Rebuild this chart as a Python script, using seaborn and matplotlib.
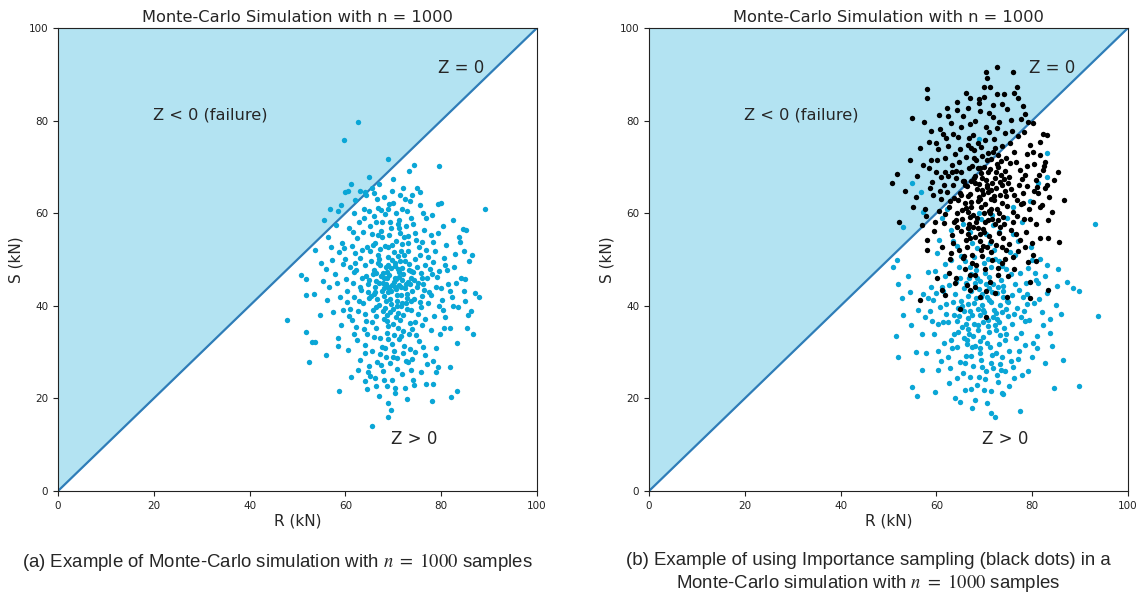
import pandas as pd
import seaborn as sns
import matplotlib.pyplot as plt

# punkty (R, S) w kN
mc_points = [
    (62.6, 79.7), (59.7, 75.8), (68.9, 71.7), (79.5, 70.2), (89.1, 60.9), (74.3, 70.4), (73.3, 69.1), (64.9, 67.8),
    (61.2, 66.3), (55.5, 58.5), (53.7, 52.0), (47.8, 36.9), (65.6, 14.0), (68.9, 16.0), (68.9, 19.0), (58.7, 21.6),
    (78.1, 19.4), (82.0, 20.3), (83.3, 21.6), (52.4, 27.9), (86.6, 34.0), (87.9, 42.0), (87.1, 42.7),
    (60.0, 64.5), (60.5, 64.8), (63.0, 64.7), (64.0, 64.5), (66.0, 64.3), (56.8, 61.0), (58.5, 60.5), (59.0, 61.8),
    (75.6, 64.5), (79.3, 62.0), (80.0, 62.2), (82.5, 58.6), (84.5, 56.5), (85.1, 56.3), (84.0, 53.8), (86.5, 51.0),
    (50.7, 46.6), (51.8, 45.8), (51.8, 42.3), (51.8, 34.3), (53.0, 32.2), (53.7, 32.2), (55.9, 29.4), (58.5, 31.3),
    (85.0, 45.8), (84.8, 43.2), (83.3, 32.0), (81.8, 26.8), (79.3, 26.8), (76.8, 23.1), (78.3, 23.1), (74.3, 22.9),
    (66.4, 22.7), (68.7, 22.7), (70.4, 22.2), (64.1, 23.8), (65.1, 24.8),
    (70.2, 45.1), (68.4, 48.3), (72.9, 41.7), (66.1, 44.0), (74.5, 50.2), (69.3, 38.6), (71.8, 53.4), (65.2, 51.9), (76.3, 44.8), (63.7, 40.5),
    (70.9, 35.2), (67.5, 56.1), (73.6, 47.6), (68.9, 42.9), (72.1, 46.8), (61.8, 47.2), (78.4, 49.5), (69.7, 31.8), (64.4, 36.7), (75.2, 38.3),
    (71.3, 58.6), (66.8, 61.2), (73.1, 55.0), (69.0, 52.7), (77.9, 55.3), (62.5, 54.6), (60.3, 43.1), (80.1, 41.2), (74.8, 33.6), (67.2, 29.5),
    (72.6, 28.1), (70.5, 43.6), (68.1, 45.9), (71.7, 39.9), (65.9, 47.8), (69.8, 49.9), (73.9, 43.2), (67.0, 40.1), (75.7, 47.0), (64.8, 44.7),
    (70.0, 62.3), (71.5, 36.9), (68.6, 34.1), (66.3, 37.9), (76.9, 52.1), (63.1, 50.3), (79.2, 46.3), (72.3, 51.0), (69.5, 56.9), (65.6, 55.4),
    (74.1, 57.7), (61.0, 39.4), (77.3, 40.7), (70.7, 26.4), (67.8, 25.9), (73.4, 30.7), (64.2, 31.6), (76.1, 35.8), (80.8, 37.5), (59.6, 49.0),
    (62.9, 58.2), (68.3, 59.8), (72.8, 60.4), (75.5, 61.7), (66.6, 63.1), (70.3, 48.7), (71.1, 44.4), (69.1, 46.6), (67.7, 43.3), (72.5, 43.9),
    (68.8, 50.6), (70.8, 41.0), (66.9, 49.3), (73.3, 49.0), (65.4, 42.2), (74.3, 45.5), (69.6, 40.4), (71.9, 48.1), (67.3, 52.3), (70.6, 54.1),
    (63.5, 46.1), (77.5, 43.0), (61.6, 44.9), (78.8, 51.8), (64.0, 38.2), (75.9, 42.1), (68.0, 37.2), (72.0, 34.5), (66.0, 33.2), (74.6, 36.4),
    (70.1, 30.2), (62.2, 35.4), (79.7, 33.9), (69.4, 27.7), (73.7, 26.2), (65.0, 27.0), (76.6, 29.3), (81.5, 44.6), (58.9, 41.8), (57.8, 46.9),
    (59.3, 53.5), (60.8, 56.9), (81.1, 53.1), (82.7, 48.4), (83.6, 39.7), (57.4, 38.6), (56.6, 44.1), (84.2, 46.1), (71.4, 64.0), (74.0, 63.9),
    (67.1, 66.2), (69.9, 67.3), (76.8, 58.9), (78.0, 59.6), (80.4, 57.2), (63.9, 61.0), (61.9, 60.1), (58.1, 57.4), (66.4, 58.0), (72.7, 57.3),
    (70.4, 46.0), (68.5, 44.6), (71.6, 42.3), (69.2, 43.9), (67.4, 46.4), (73.0, 45.2), (66.7, 41.4), (72.4, 49.6), (68.7, 47.4), (70.0, 39.2),
    (65.3, 49.6), (74.9, 48.4), (63.3, 43.5), (76.0, 46.1), (69.0, 35.7), (71.2, 32.8), (67.6, 31.0), (73.8, 39.0), (64.6, 33.9), (75.3, 52.8),
    (62.0, 51.4), (77.7, 48.0), (60.1, 45.7), (79.9, 43.9), (66.2, 53.6), (72.2, 54.9), (69.3, 58.0), (65.8, 46.8), (74.4, 41.5), (68.2, 53.0),
    (71.0, 50.8), (67.9, 38.9), (73.5, 36.2), (70.9, 47.9), (66.5, 35.3), (64.1, 48.9), (75.8, 39.8), (62.8, 41.0), (78.5, 37.9), (61.3, 37.0),
    (80.3, 39.0), (59.0, 35.9), (82.2, 41.8), (58.4, 33.1), (81.9, 35.1), (60.6, 30.5), (79.0, 30.9), (63.0, 28.3), (77.1, 27.4), (66.1, 24.5),
    (74.2, 24.0), (70.3, 21.1), (72.9, 19.8), (67.0, 20.5), (69.6, 17.6), (71.9, 25.3), (68.4, 28.9), (64.7, 25.6), (75.4, 32.3), (62.4, 32.7),
    (77.8, 34.8), (65.7, 39.0), (73.2, 33.9), (60.4, 40.9), (79.5, 47.6), (57.2, 49.8), (82.9, 51.1), (58.7, 51.6), (81.3, 47.7), (84.9, 41.0),
    (56.1, 41.2), (55.3, 45.3), (85.8, 49.6), (54.7, 38.0), (86.2, 38.8), (54.9, 49.2), (83.8, 54.9), (56.3, 54.9), (85.3, 35.3), (53.5, 42.5),
    (69.8, 44.5), (70.6, 45.8), (71.3, 47.2), (68.6, 46.1), (67.2, 48.9), (72.8, 42.6), (69.4, 41.5), (71.7, 44.1), (66.4, 45.4), (73.6, 46.0),
    (68.1, 42.1), (70.2, 51.6), (72.0, 38.0), (67.7, 54.8), (74.7, 54.2), (65.1, 57.3), (71.8, 61.0), (69.1, 61.9), (76.4, 56.3), (63.6, 56.0),
    (78.2, 53.7), (61.4, 53.0), (60.0, 50.2), (80.6, 50.4), (75.0, 44.1), (64.9, 41.7), (73.1, 51.9), (66.9, 51.0), (70.5, 37.5), (68.8, 32.9),
    (72.3, 31.4), (65.5, 30.2), (74.5, 30.0), (63.8, 35.0), (76.7, 37.2), (70.8, 28.7), (67.4, 27.2), (73.0, 27.8), (69.7, 23.9), (62.6, 26.2),
    (78.9, 25.7), (61.1, 24.7), (71.5, 55.8), (66.0, 59.3), (73.8, 59.0), (68.0, 63.5), (72.1, 65.5), (64.3, 63.9), (70.7, 42.4), (69.5, 48.2),
    (67.8, 44.9), (71.9, 40.6), (73.4, 44.6), (66.2, 43.0), (75.6, 50.9), (64.5, 52.7), (77.0, 45.9), (62.1, 49.3), (68.3, 39.6), (70.1, 33.6),
    (69.0, 44.0), (71.2, 46.3), (67.9, 47.1), (72.7, 44.8), (68.4, 41.0), (70.4, 49.2), (66.0, 42.6), (73.7, 41.1), (69.7, 53.1), (71.6, 51.8),
    (65.0, 45.6), (74.2, 47.3), (67.0, 50.2), (70.9, 38.5), (68.7, 36.8), (72.9, 39.4), (66.3, 39.8), (75.1, 45.0), (64.3, 46.4), (73.0, 53.6),
    (69.2, 55.3), (67.6, 58.2), (71.2, 56.7), (74.6, 55.8), (65.8, 53.1), (76.7, 48.9), (63.0, 44.0), (77.8, 42.4), (61.9, 41.8), (78.9, 44.1),
    (70.0, 36.1), (68.2, 30.9), (72.1, 29.9), (66.7, 27.8), (74.0, 28.6), (64.1, 29.7), (76.3, 31.0), (62.7, 38.8), (79.6, 39.9), (60.9, 48.3),
    (80.9, 48.8), (59.8, 52.4), (79.3, 55.7), (61.5, 55.9), (63.8, 59.0), (68.9, 61.0), (73.5, 62.6), (70.6, 60.1), (66.9, 55.2), (75.9, 53.8),
    (69.5, 43.2), (70.3, 44.0), (68.0, 43.9), (71.9, 45.5), (67.1, 45.0), (73.2, 47.8), (69.0, 48.8), (71.4, 49.7), (66.5, 47.0), (72.6, 40.5),
    (70.7, 39.9), (68.6, 38.1), (65.6, 36.4), (73.9, 34.9), (71.7, 33.4), (67.3, 33.0), (69.9, 29.0), (75.5, 40.8), (64.7, 43.0), (76.5, 43.5),
    (62.3, 47.8), (77.2, 50.5), (63.4, 52.0), (78.1, 46.9), (60.7, 37.8), (81.8, 43.1), (58.2, 44.9), (82.4, 39.9), (59.5, 39.0), (80.5, 35.2),
    (61.7, 34.0), (78.4, 28.0), (64.6, 22.0), (72.5, 22.3), (75.7, 25.7), (68.1, 24.0), (70.9, 57.7), (67.4, 60.6), (72.4, 63.0), (64.9, 60.4),
    (76.2, 60.0), (74.9, 65.4), (69.8, 64.8), (65.5, 65.5), (62.0, 62.8), (57.0, 52.6), (55.9, 48.0), (84.7, 51.8), (83.2, 44.9), (85.5, 38.1),
]

is_blue_points = [
    (51.0, 48.4), (51.7, 49.9), (51.9, 44.7), (52.8, 41.6), (53.0, 38.0), (51.6, 33.5), (52.0, 29.0), (55.0, 22.5),
    (55.9, 20.5), (56.9, 26.1), (59.7, 21.3), (60.3, 26.1), (67.5, 18.0), (71.5, 16.9), (72.2, 16.0), (77.5, 17.3),
    (74.0, 20.9), (84.6, 22.2), (89.8, 22.7), (93.7, 37.8), (86.5, 28.3), (84.2, 31.4), (83.7, 34.2), (89.7, 43.2),
    (88.5, 43.9), (87.2, 45.2), (85.3, 47.9), (82.7, 27.6), (77.9, 25.1), (80.2, 31.9), (54.5, 43.0), (55.7, 30.1),
    (93.1, 57.7), (83.0, 73.1), (83.0, 67.9), (55.0, 66.5), (56.8, 64.5), (53.1, 57.1), (57.3, 60.3), (68.8, 76.0),
    (81.3, 66.5), (79.5, 62.7),
    (69.5, 40.2), (71.8, 37.6), (67.3, 43.1), (73.4, 45.5), (65.8, 38.9), (70.9, 34.3), (68.2, 47.8), (74.7, 41.0), (66.4, 32.7), (72.3, 50.1),
    (63.9, 42.6), (76.1, 38.2), (69.0, 29.9), (71.2, 53.6), (64.7, 48.3), (75.5, 46.9), (67.9, 36.1), (73.0, 31.8), (62.4, 36.4), (77.3, 43.4),
    (70.4, 44.7), (68.7, 39.4), (72.6, 42.8), (66.9, 45.9), (74.1, 35.1), (69.9, 49.3), (65.1, 41.1), (71.5, 27.6), (67.6, 27.0), (73.8, 28.9),
    (61.7, 46.5), (78.4, 36.7), (60.8, 39.8), (79.1, 48.1), (63.3, 30.9), (76.7, 33.0), (70.2, 24.1), (68.4, 22.9), (72.9, 23.6), (65.5, 25.4),
    (74.4, 25.9), (62.9, 26.6), (77.0, 28.6), (59.6, 33.8), (80.3, 40.7), (58.9, 44.0), (81.2, 44.9), (60.1, 51.3), (79.7, 52.8), (64.2, 52.9),
    (75.9, 55.4), (67.1, 55.9), (71.9, 57.4), (69.3, 58.8), (63.0, 56.3), (77.8, 58.1), (61.2, 59.0), (70.6, 41.8), (68.9, 43.7), (72.1, 39.0),
    (66.6, 40.3), (73.6, 48.5), (67.8, 50.6), (71.0, 46.2), (65.3, 35.5), (74.9, 37.9), (69.7, 33.2), (64.0, 45.2), (76.4, 50.9), (62.1, 40.4),
    (78.0, 41.9), (63.6, 33.9), (75.2, 30.3), (68.1, 31.3), (72.4, 34.8), (66.2, 29.2), (70.8, 37.0), (69.2, 45.3), (67.4, 38.0), (71.6, 43.0),
    (73.2, 40.1), (65.7, 43.9), (74.0, 44.3), (68.6, 35.9), (70.1, 47.0), (66.0, 49.6), (72.8, 46.6), (64.5, 39.6), (75.7, 42.3), (63.1, 49.9),
    (77.5, 47.1), (61.4, 43.3), (79.4, 37.0), (60.4, 36.0), (80.9, 33.5), (59.2, 41.3), (82.1, 38.6), (58.3, 47.4), (81.7, 50.0), (57.6, 37.5),
    (83.1, 42.7), (56.9, 34.0), (82.6, 46.5), (57.9, 29.9), (80.0, 29.0), (61.0, 28.0), (78.6, 31.6), (64.9, 27.9), (73.5, 26.1), (69.6, 26.8),
    (67.0, 24.6), (71.3, 21.7), (75.1, 22.7), (65.9, 21.9), (68.0, 19.6), (62.7, 23.4), (76.3, 24.4), (70.5, 19.1), (63.8, 20.1), (79.2, 26.0),
    (70.0, 38.6), (71.4, 40.9), (68.3, 41.6), (69.8, 36.6), (72.7, 37.2), (67.2, 46.8), (73.9, 42.0), (66.5, 37.3), (70.7, 50.0), (68.5, 52.4),
    (72.0, 52.0), (65.0, 46.0), (74.6, 47.9), (66.8, 33.9), (71.1, 31.2), (69.1, 30.8), (73.3, 33.7), (64.3, 36.8), (76.8, 39.6), (62.6, 44.5),
    (78.7, 45.0), (61.9, 49.0), (80.5, 47.0), (60.6, 54.2), (77.1, 53.9), (63.5, 53.9), (75.4, 51.6), (67.5, 53.5), (70.3, 55.5), (73.1, 56.0),
    (65.6, 57.6), (74.8, 58.9), (68.8, 60.1), (71.7, 59.5), (62.3, 61.0), (76.0, 61.3), (66.3, 31.8), (72.5, 29.7), (69.4, 28.3), (67.7, 33.5),
    (70.6, 32.0), (68.7, 34.7), (72.2, 35.9), (66.1, 36.0), (74.3, 32.6), (64.6, 34.3), (71.8, 26.5), (67.3, 29.1), (69.0, 38.1), (73.7, 38.6),
    (65.4, 40.0), (75.8, 36.0), (63.7, 38.0), (77.6, 34.2), (61.6, 32.0), (79.0, 42.6), (60.0, 42.8), (81.5, 41.5), (58.6, 38.9), (83.8, 37.2),
    (70.9, 43.9), (68.1, 44.9), (72.9, 44.0), (66.7, 42.2), (74.5, 39.3), (69.3, 42.0), (71.3, 48.4), (67.0, 48.3), (73.0, 49.6), (65.2, 50.8),
    (69.8, 39.0), (71.0, 41.3), (67.8, 40.7), (72.5, 38.4), (66.2, 44.9), (73.9, 43.3), (68.5, 46.0), (70.7, 35.6), (65.8, 33.0), (74.6, 33.9),
    (69.2, 32.4), (71.6, 29.3), (67.5, 31.0), (73.2, 27.4), (66.0, 27.6), (70.3, 26.0), (68.8, 24.6), (72.6, 25.0), (64.2, 24.3), (76.0, 26.8),
    (63.0, 32.6), (77.7, 37.5), (62.0, 38.2), (78.9, 40.3), (61.1, 44.0), (80.8, 45.6), (59.7, 47.5), (79.9, 49.9), (58.2, 41.7), (82.3, 35.8),
    (60.3, 30.2), (81.0, 30.8), (62.5, 29.0), (77.3, 30.3), (64.4, 31.0), (75.6, 28.0), (67.2, 22.0), (70.0, 21.9), (73.6, 21.2), (65.0, 19.2),
    (69.5, 42.6), (71.9, 44.6), (67.0, 38.8), (73.0, 36.4), (66.6, 35.0), (75.0, 40.8), (64.8, 37.8), (76.5, 44.6), (63.4, 40.8), (78.2, 38.8),
    (61.3, 36.5), (59.0, 36.7), (57.3, 42.6), (56.2, 39.1), (54.8, 35.8), (54.0, 46.5), (84.9, 40.1), (86.0, 38.3), (85.2, 44.3), (83.0, 48.8),
]

is_black_points = [
    (72.7, 91.6), (76.0, 90.5), (70.4, 90.5), (58.0, 86.8), (58.0, 84.9), (54.9, 80.6), (50.7, 66.5), (51.8, 68.5),
    (54.5, 71.5), (52.2, 58.1), (86.6, 62.8), (85.4, 68.9), (83.1, 76.9), (78.1, 83.2), (56.6, 41.3), (70.4, 37.6),
    (64.9, 39.3), (83.3, 43.4), (85.6, 53.8),
    (70.5, 89.1), (69.9, 87.3), (71.2, 87.3), (76.8, 87.2), (77.0, 84.8), (72.6, 85.7), (74.2, 85.7), (66.2, 85.9),
    (67.0, 84.8), (68.8, 83.9), (62.2, 82.7), (64.2, 82.3), (62.5, 80.9), (57.4, 79.6), (58.9, 77.8), (58.5, 75.3),
    (59.9, 75.1), (78.4, 81.4), (79.1, 79.8), (80.2, 79.4), (82.2, 77.1), (81.6, 75.3), (80.2, 73.3), (82.7, 71.0),
    (82.2, 69.3), (80.9, 65.7), (82.7, 65.4), (81.6, 61.4), (83.4, 58.5), (53.4, 64.8), (55.2, 61.4), (57.3, 70.4),
    (58.8, 71.5),
    (58.0, 52.1), (60.1, 45.9), (61.1, 43.4), (61.8, 42.3), (64.1, 45.9), (66.3, 44.5), (67.0, 43.4), (72.2, 42.7),
    (74.7, 42.0), (79.5, 41.6), (79.5, 45.2), (80.8, 49.7), (83.4, 54.7), (80.2, 51.0), (69.2, 42.0), (72.9, 46.7),
    (68.1, 46.7),
    (69.8, 64.2), (71.5, 61.0), (67.2, 66.9), (73.4, 68.3), (65.9, 62.1), (70.7, 58.6), (68.3, 71.4), (74.6, 63.7), (66.5, 56.9), (72.2, 74.0),
    (64.1, 67.6), (76.0, 60.2), (69.1, 53.9), (71.0, 77.5), (63.8, 72.8), (75.3, 70.9), (67.7, 59.5), (73.1, 55.8), (62.6, 61.4), (77.2, 66.0),
    (70.3, 67.1), (68.6, 62.6), (72.5, 65.4), (66.8, 69.8), (74.0, 59.2), (69.6, 72.3), (65.0, 64.4), (71.4, 51.7), (67.5, 51.0), (73.7, 52.6),
    (61.8, 68.9), (78.3, 58.8), (61.0, 63.1), (78.9, 70.1), (63.2, 55.2), (76.6, 55.4), (70.1, 47.9), (68.2, 48.8), (72.8, 48.1), (65.6, 50.3),
    (74.3, 50.0), (62.8, 50.1), (77.0, 51.9), (59.8, 58.0), (80.1, 62.4), (59.0, 66.8), (80.7, 67.2), (60.3, 73.8), (79.6, 74.8), (64.5, 76.4),
    (75.7, 77.8), (67.0, 79.2), (71.9, 80.8), (69.2, 82.1), (63.0, 79.4), (77.7, 80.3), (61.3, 77.0), (70.6, 65.6), (68.8, 66.3), (72.0, 62.9),
    (66.6, 63.8), (73.5, 71.3), (67.8, 73.6), (71.1, 69.5), (65.4, 58.7), (74.8, 61.6), (69.7, 56.5), (64.0, 69.2), (76.3, 73.3), (62.2, 64.6),
    (78.0, 64.3), (63.6, 58.0), (75.1, 53.4), (68.0, 54.9), (72.3, 57.7), (66.3, 52.7), (70.9, 60.4), (69.3, 68.6), (67.3, 61.3), (71.7, 66.6),
    (73.2, 64.0), (65.7, 67.0), (74.1, 67.4), (68.5, 59.0), (70.0, 70.0), (66.1, 72.2), (72.7, 70.6), (64.6, 62.8), (75.6, 65.2), (63.3, 70.5),
    (77.4, 69.4), (61.5, 66.0), (79.3, 61.0), (60.5, 60.5), (80.8, 57.6), (59.3, 63.9), (82.0, 61.8), (58.4, 69.7), (81.6, 72.5), (57.7, 61.0),
    (83.0, 66.0), (57.0, 57.4), (82.5, 70.2), (58.0, 54.3), (79.9, 53.6), (61.1, 52.6), (78.7, 56.0), (64.8, 52.0), (73.6, 49.2), (69.5, 50.8),
    (67.1, 46.7), (71.2, 45.2), (75.0, 46.4), (66.0, 47.9), (68.1, 44.0), (62.7, 47.1), (76.2, 48.0), (70.4, 43.3), (63.9, 45.0), (79.1, 49.5),
    (70.2, 62.0), (71.3, 64.9), (68.4, 65.2), (69.9, 60.0), (72.6, 60.8), (67.4, 70.1), (73.8, 66.1), (66.7, 60.3), (70.8, 73.1), (68.7, 75.2),
    (72.1, 76.0), (65.1, 69.0), (74.5, 72.0), (66.9, 57.7), (71.0, 55.1), (69.0, 55.6), (73.3, 57.0), (64.3, 60.1), (76.8, 62.8), (62.5, 68.1),
    (78.6, 68.2), (61.9, 72.0), (80.4, 70.6), (60.7, 78.2), (77.1, 76.6), (63.5, 77.1), (75.4, 75.1), (67.6, 76.9), (70.3, 78.6), (73.0, 79.6),
    (65.5, 81.0), (74.7, 82.6), (68.9, 84.6), (71.8, 83.4), (62.4, 74.6), (76.1, 86.0), (66.2, 54.2), (72.4, 53.1), (69.4, 52.0), (67.7, 57.0),
    (70.5, 66.0), (68.9, 63.6), (72.3, 67.7), (66.4, 65.8), (74.2, 57.6), (64.4, 57.1), (71.6, 58.8), (67.0, 64.1), (69.2, 69.8), (73.6, 62.1),
    (65.3, 60.6), (75.9, 58.2), (63.7, 63.2), (77.6, 62.0), (61.6, 57.8), (78.9, 65.9), (60.0, 69.0), (81.3, 64.4), (58.7, 65.4), (83.6, 63.6),
    (70.8, 69.0), (68.0, 68.0), (72.9, 72.5), (66.6, 74.8), (74.4, 69.2), (69.4, 61.3), (71.3, 71.6), (67.1, 54.6), (73.1, 60.1), (65.2, 56.2),
    (70.0, 56.0), (69.6, 64.9), (71.4, 63.1), (68.2, 58.0), (72.8, 69.9), (67.9, 67.6), (74.9, 66.6), (66.0, 66.0), (70.6, 52.8), (64.9, 73.9),
    (69.0, 63.0), (70.8, 64.6), (68.1, 66.5), (72.1, 63.7), (67.3, 62.5), (73.3, 66.8), (69.6, 67.5), (71.2, 60.0), (66.2, 61.1), (74.4, 64.7),
    (68.6, 69.7), (70.5, 71.5), (72.5, 68.9), (65.6, 66.9), (75.2, 67.9), (67.8, 71.9), (71.9, 73.3), (69.3, 74.4), (66.8, 76.3), (73.7, 74.5),
    (64.7, 71.0), (76.6, 71.0), (63.4, 66.1), (77.9, 67.3), (62.9, 62.6), (76.9, 59.4), (64.1, 58.6), (75.5, 56.4), (66.5, 55.6), (73.9, 54.6),
    (68.6, 56.8), (71.5, 54.0), (70.2, 58.1), (67.0, 59.1), (72.9, 58.6), (69.8, 53.0), (65.8, 50.8), (74.6, 52.0), (63.5, 53.6), (77.5, 54.2),
    (61.9, 59.9), (79.5, 58.7), (60.8, 64.8), (80.3, 64.8), (60.1, 71.5), (79.0, 72.8), (62.0, 76.3), (78.2, 77.6), (65.1, 78.7), (74.3, 77.4),
    (68.1, 79.9), (71.0, 81.6), (66.6, 82.7), (73.6, 83.5), (69.9, 85.2), (64.3, 84.1), (75.6, 80.1), (60.6, 81.3), (56.5, 74.1), (56.0, 68.1),
    (55.7, 63.6), (57.9, 59.3), (59.4, 56.1), (63.0, 51.3), (67.4, 49.3), (71.7, 49.9), (75.9, 50.6), (78.4, 52.8), (81.7, 54.7), (84.1, 60.2),
    (84.5, 67.1), (81.5, 68.3), (78.1, 62.3), (76.1, 64.0), (65.1, 63.9), (63.2, 68.9), (61.0, 67.9), (70.1, 75.9), (72.7, 78.5), (67.3, 74.0),
]

title = "Monte-Carlo Simulation with n = 1000"
caption_a = "(a) Example of Monte-Carlo simulation with $n\\ =\\ 1000$ samples"
caption_b = "(b) Example of using Importance sampling (black dots) in a\nMonte-Carlo simulation with $n\\ =\\ 1000$ samples"

df_mc = pd.DataFrame(mc_points, columns=["R", "S"])
df_blue = pd.DataFrame(is_blue_points, columns=["R", "S"])
df_black = pd.DataFrame(is_black_points, columns=["R", "S"])

sns.set_style("ticks")
plt.rcParams["font.family"] = ["DejaVu Sans"]
plt.rcParams["mathtext.fontset"] = "stix"

FILL = "#b3e3f2"
LINE = "#2f7db8"
DOT = "#0aa6d6"

fig = plt.figure(figsize=(11.41, 5.99), dpi=100)
ax1 = fig.add_axes([0.0508, 0.1803, 0.4198, 0.773])
ax2 = fig.add_axes([0.5688, 0.1803, 0.4198, 0.773])


def draw_base(ax):
    ax.fill_between([0, 100], [0, 100], 100, color=FILL, linewidth=0, zorder=0)
    ax.plot([0, 100], [0, 100], color=LINE, lw=1.6, zorder=1)
    ax.set_xlim(0, 100)
    ax.set_ylim(0, 100)
    ax.set_title(title, fontsize=11.7, pad=4)
    ax.tick_params(labelsize=7.5, length=3.5, width=0.8, colors="#222222")
    for sp in ax.spines.values():
        sp.set_linewidth(0.8)
        sp.set_color("#222222")
    ax.text(84.1, 91.4, "Z = 0", fontsize=12, ha="center", va="center")
    ax.text(31.7, 81.2, "Z < 0 (failure)", fontsize=11.7, ha="center", va="center")
    ax.text(74.3, 11.2, "Z > 0", fontsize=12, ha="center", va="center")


draw_base(ax1)
sns.scatterplot(data=df_mc, x="R", y="S", color=DOT, s=15, linewidth=0, ax=ax1, zorder=2)

draw_base(ax2)
sns.scatterplot(data=df_blue, x="R", y="S", color=DOT, s=15, linewidth=0, ax=ax2, zorder=2)
sns.scatterplot(data=df_black, x="R", y="S", color="black", s=15, linewidth=0, ax=ax2, zorder=3)

for ax in (ax1, ax2):
    ax.set_xlabel("R (kN)", fontsize=11, labelpad=2)
    ax.set_ylabel("S (kN)", fontsize=11, labelpad=4)

fig.text(0.243, 0.061, caption_a, fontsize=13.4, family="Liberation Sans", ha="center", va="center")
fig.text(0.761, 0.043, caption_b, fontsize=13.4, family="Liberation Sans", ha="center", va="center",
         linespacing=1.2)

fig.savefig("out.png", dpi=100)
